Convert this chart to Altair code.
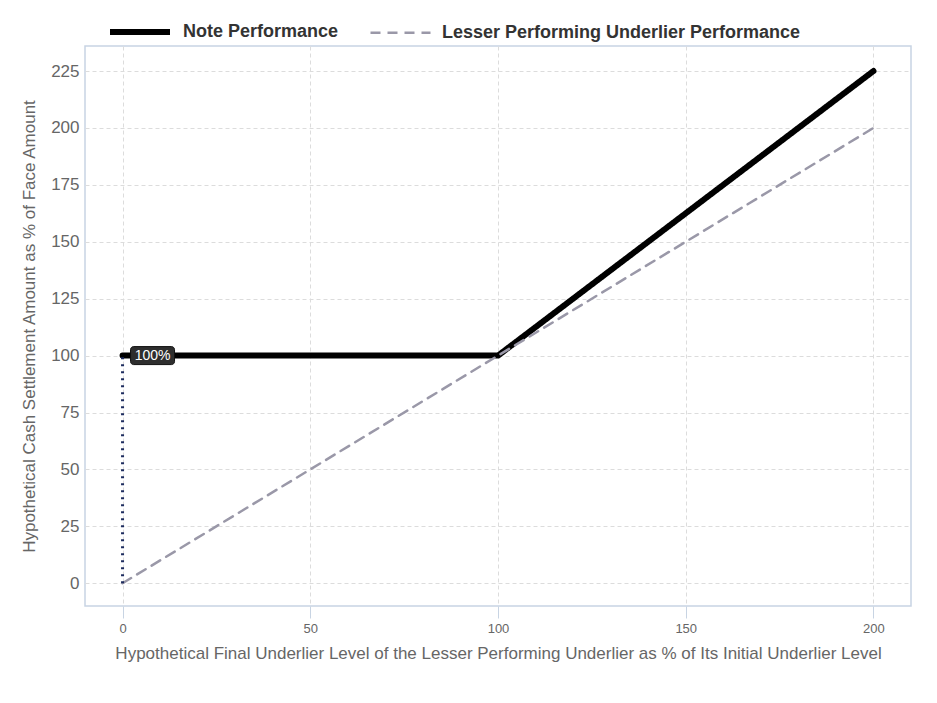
import altair as alt
import pandas as pd

note_x = [0, 100, 200]
note_y = [100, 100, 225]
under_x = [0, 100, 200]
under_y = [0, 100, 200]
series = ["Note Performance", "Lesser Performing Underlier Performance"]
marker_x = [0]
marker_y0 = [0]
marker_y1 = [100]
marker_label = ["100%"]

rows = []
for i, (x, y) in enumerate(zip(note_x, note_y)):
    rows.append({"x": x, "y": y, "series": series[0], "o": i})
for i, (x, y) in enumerate(zip(under_x, under_y)):
    rows.append({"x": x, "y": y, "series": series[1], "o": i})
df = pd.DataFrame(rows)
mk = pd.DataFrame({"x": marker_x, "y0": marker_y0, "y1": marker_y1, "label": marker_label})

font = "Liberation Sans"
xs = alt.Scale(domain=[-10, 210], nice=False, zero=False)
ys = alt.Scale(domain=[-10, 236], nice=False, zero=False)

xaxis = alt.Axis(values=[0, 50, 100, 150, 200], title="Hypothetical Final Underlier Level of the Lesser Performing Underlier as % of Its Initial Underlier Level",
                 grid=True, gridDash=[4, 3], gridColor="#dcdcdc", domain=False, ticks=True, tickSize=12,
                 tickColor="#c8d4e3", labelFontSize=13, labelColor="#666666", labelFont=font, labelPadding=4,
                 titleFont=font, titleFontSize=17, titleFontWeight="normal", titleColor="#666666", titlePadding=10)
yaxis = alt.Axis(values=[0, 25, 50, 75, 100, 125, 150, 175, 200, 225], title="Hypothetical Cash Settlement Amount as % of Face Amount",
                 grid=True, gridDash=[4, 3], gridColor="#dcdcdc", domain=False, ticks=False,
                 labelFontSize=17, labelColor="#666666", labelFont=font, labelPadding=6,
                 titleFont=font, titleFontSize=17, titleFontWeight="normal", titleColor="#666666", titlePadding=12)

lines = alt.Chart(df).mark_line(strokeCap="round").encode(
    x=alt.X("x:Q", scale=xs, axis=xaxis),
    y=alt.Y("y:Q", scale=ys, axis=yaxis),
    order="o:Q",
    color=alt.Color("series:N", scale=alt.Scale(domain=series, range=["#000000", "#9a98a8"]),
                    legend=alt.Legend(title=None, orient="none", legendX=22, legendY=-47, direction="horizontal",
                                      symbolType="stroke", symbolSize=3600, labelFontSize=18, labelFontWeight="bold",
                                      labelColor="#333333", labelFont=font, columnPadding=26, labelOffset=10,
                                      labelLimit=0)),
    strokeDash=alt.StrokeDash("series:N", scale=alt.Scale(domain=series, range=[[1, 0], [10, 7]]), legend=None),
    strokeWidth=alt.StrokeWidth("series:N", scale=alt.Scale(domain=series, range=[6, 2.5]), legend=None),
)

dots = alt.Chart(mk).mark_rule(color="#1c2b5e", strokeWidth=3, strokeDash=[2, 5], strokeCap="butt").encode(
    x=alt.X("x:Q", scale=xs), y=alt.Y("y0:Q", scale=ys), y2="y1:Q")

box = alt.Chart(mk).mark_rect(width=44, height=18, xOffset=30, color="#2e2e2e", cornerRadius=3,
                              stroke="#111111", strokeWidth=1).encode(
    x=alt.X("x:Q", scale=xs), y=alt.Y("y1:Q", scale=ys))
txt = alt.Chart(mk).mark_text(color="white", fontSize=14, font=font, dx=30).encode(
    x=alt.X("x:Q", scale=xs), y=alt.Y("y1:Q", scale=ys), text="label:N")

chart = alt.layer(lines, dots, box, txt).properties(
    width=826, height=560,
    autosize=alt.AutoSizeParams(type="none"),
    padding={"left": 85, "top": 46, "right": 26, "bottom": 97},
    background="white",
).configure_view(stroke="#c8d4e3", strokeWidth=1.5)

chart.save("out.html", embed_options={"renderer": "svg", "actions": False})
